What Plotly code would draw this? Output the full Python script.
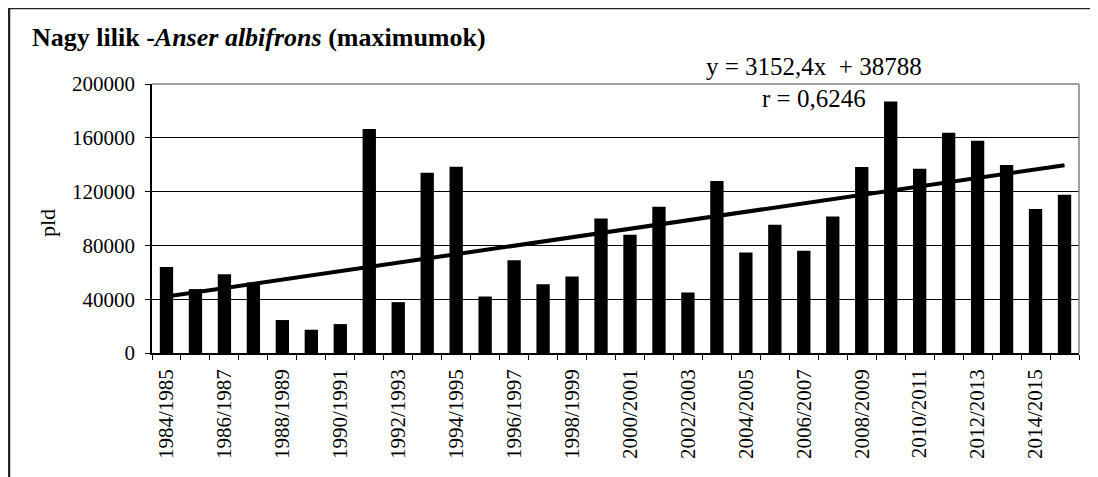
import plotly.graph_objects as go

# ---- data ----
seasons = [f"{y}/{y+1}" for y in range(1984, 2016)]
counts = [64000, 47500, 58500, 52500, 24500, 17300, 21500, 166500,
          37800, 134000, 138500, 42000, 69000, 51200, 56800, 100000,
          88000, 108800, 45000, 127800, 74700, 95400, 76100, 101400,
          138200, 187000, 137000, 163700, 157800, 139700, 107100, 117700]
tick_labels = [s if i % 2 == 0 else "" for i, s in enumerate(seasons)]
trend_slope = 3152.4
trend_intercept = 38788
r_value = "0,6246"
title_html = "<b>Nagy lilik -<i>Anser albifrons</i> (maximumok)</b>"
y_title = "pld"

OFF = 8  # page body margin
W, H = 1098 - OFF, 477 - OFF
# plot area edges in window pixels
L, R, T, B = 152, 1079, 84, 353


def px(x):
    return (x - L) / (R - L)


def py(y):
    return (B - y) / (B - T)


trend_vals = [trend_slope * (i + 1) + trend_intercept for i in range(len(seasons))]

FONT = "Liberation Serif, Times New Roman, serif"

fig = go.Figure()
fig.add_trace(go.Bar(x=seasons, y=counts, marker=dict(color="black", line=dict(width=0)),
                     showlegend=False, hoverinfo="x+y"))
fig.add_trace(go.Scatter(x=seasons, y=trend_vals, mode="lines",
                         line=dict(color="black", width=4), showlegend=False))

fig.update_layout(
    width=W, height=H,
    margin=dict(l=L - OFF, r=1098 - R, t=T - OFF, b=477 - B, pad=0, autoexpand=False),
    paper_bgcolor="white", plot_bgcolor="white",
    bargap=0.54,
    font=dict(family=FONT, color="black", size=20),
    xaxis=dict(type="category", tickmode="array", tickvals=seasons, ticktext=tick_labels,
               tickangle=-90, tickson="boundaries", ticks="outside", ticklen=5,
               tickwidth=1, tickcolor="black", showline=True, linecolor="black",
               linewidth=1.5, showgrid=False, range=[-0.5, len(seasons) - 0.5],
               tickfont=dict(size=21, family=FONT), ticklabelstandoff=6,
               automargin=False),
    yaxis=dict(range=[0, 200000], dtick=40000, tickformat="d", ticks="outside",
               ticklen=5, tickwidth=1, tickcolor="black", showline=True,
               linecolor="black", linewidth=1.5, showgrid=True, gridcolor="black",
               gridwidth=1, zeroline=False, tickfont=dict(size=21, family=FONT),
               ticklabelstandoff=6, automargin=False),
)

shapes = [
    # plot area border (gray) top and right
    dict(type="line", xref="paper", yref="paper", x0=0, x1=1, y0=1, y1=1,
         line=dict(color="#808080", width=1.5), layer="above"),
    dict(type="line", xref="paper", yref="paper", x0=1, x1=1, y0=0, y1=1,
         line=dict(color="#808080", width=1.5), layer="above"),
    # outer chart border (left and top visible)
    dict(type="line", xref="paper", yref="paper", x0=px(8), x1=px(1110), y0=py(8), y1=py(8),
         line=dict(color="#222222", width=2.5), layer="above"),
    dict(type="line", xref="paper", yref="paper", x0=px(9), x1=px(9), y0=py(7), y1=py(490),
         line=dict(color="#222222", width=2.5), layer="above"),
]
fig.update_layout(shapes=shapes)

fig.add_annotation(text=title_html, xref="paper", yref="paper", x=px(30), y=py(38),
                   xanchor="left", yanchor="middle", showarrow=False,
                   font=dict(size=26, family=FONT, color="black"))
fig.add_annotation(text=f"y = {str(trend_slope).replace('.', ',')}x  + {trend_intercept}",
                   xref="paper", yref="paper", x=px(813.5), y=py(66),
                   xanchor="center", yanchor="middle", showarrow=False,
                   font=dict(size=25, family=FONT, color="black"))
fig.add_annotation(text=f"r = {r_value}", xref="paper", yref="paper", x=px(813.5), y=py(99),
                   xanchor="center", yanchor="middle", showarrow=False,
                   font=dict(size=25, family=FONT, color="black"))
fig.add_annotation(text=y_title, xref="paper", yref="paper", x=px(47), y=py(223),
                   xanchor="center", yanchor="middle", textangle=-90, showarrow=False,
                   font=dict(size=22, family=FONT, color="black"))

fig.write_html("out.html")
